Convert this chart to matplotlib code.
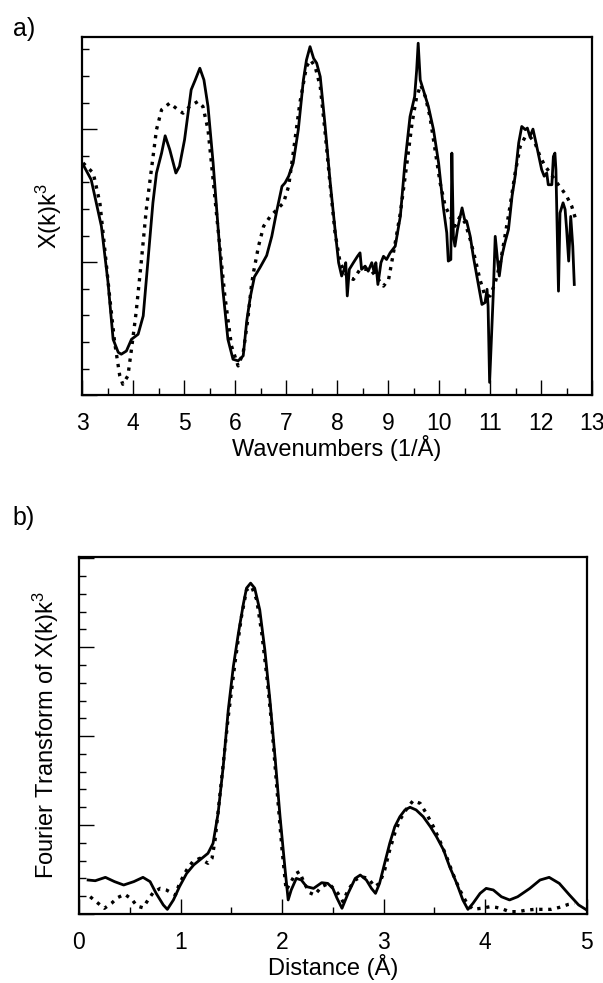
import matplotlib
matplotlib.use("Agg")
import matplotlib.pyplot as plt
from matplotlib.ticker import MultipleLocator, NullFormatter

plt.rcParams['font.family'] = ['Liberation Sans', 'DejaVu Sans']
plt.rcParams['mathtext.default'] = 'regular'

# a) EXAFS chi(k)*k^3, experiment (solid) and fit (dotted)
k_exp = [3.02, 3.04, 3.18, 3.38, 3.51, 3.61, 3.71, 3.77, 3.87, 3.97, 4.10, 4.20, 4.29, 4.39,
         4.46, 4.56, 4.63, 4.72, 4.84, 4.91, 5.01, 5.14, 5.22, 5.31, 5.39, 5.47, 5.57, 5.67,
         5.76, 5.86, 5.96, 6.06, 6.16, 6.23, 6.30, 6.38, 6.49, 6.62, 6.72, 6.82, 6.92, 6.98,
         7.05, 7.14, 7.24, 7.34, 7.40, 7.47, 7.54, 7.60, 7.67, 7.76, 7.86, 7.96, 8.03, 8.09,
         8.14, 8.17, 8.20, 8.24, 8.32, 8.40, 8.45, 8.48, 8.55, 8.61, 8.68, 8.73, 8.76, 8.80,
         8.86, 8.91, 8.97, 9.04, 9.14, 9.24, 9.33, 9.43, 9.52, 9.56, 9.59, 9.63, 9.69, 9.79,
         9.89, 9.99, 10.08, 10.15, 10.18, 10.23, 10.25, 10.28, 10.31, 10.36, 10.45, 10.50,
         10.54, 10.61, 10.67, 10.74, 10.80, 10.84, 10.90, 10.94, 10.96, 10.99, 11.02, 11.06,
         11.10, 11.15, 11.18, 11.23, 11.29, 11.36, 11.43, 11.49, 11.56, 11.62, 11.69, 11.73,
         11.78, 11.84, 11.90, 11.97, 12.01, 12.06, 12.11, 12.14, 12.21, 12.24, 12.27, 12.29,
         12.34, 12.37, 12.43, 12.47, 12.50, 12.54, 12.58, 12.62, 12.65]
chi_exp = [3.65, 3.60, 3.10, 1.35, -0.76, -2.90, -3.39, -3.46, -3.34, -2.90, -2.71, -2.02, 0.00,
           2.23, 3.35, 4.10, 4.75, 4.23, 3.35, 3.60, 4.60, 6.48, 6.85, 7.29, 6.85, 5.85, 3.73,
           1.23, -1.02, -2.90, -3.65, -3.71, -3.52, -2.20, -1.30, -0.55, -0.20, 0.25, 0.97,
           1.95, 2.85, 2.98, 3.23, 3.73, 4.98, 6.85, 7.60, 8.10, 7.66, 7.48, 6.97, 5.23, 3.10,
           1.23, -0.02, -0.52, -0.27, -0.02, -1.27, -0.27, -0.02, 0.22, 0.35, -0.27, -0.15,
           -0.34, -0.02, -0.40, -0.02, -0.84, -0.02, 0.22, 0.10, 0.35, 0.60, 1.72, 3.73, 5.47,
           6.22, 7.22, 8.23, 6.85, 6.48, 5.85, 4.98, 3.73, 2.10, 1.10, 0.04, 0.10, 4.10, 0.97,
           0.60, 1.23, 2.04, 1.60, 1.54, 0.97, 0.22, -0.52, -1.15, -1.59, -1.52, -1.02, -1.65,
           -4.52, -3.15, -1.27, 0.97, -0.02, -0.52, 0.22, 0.73, 1.23, 2.48, 3.23, 4.48, 5.10,
           4.98, 5.04, 4.72, 5.00, 4.48, 3.85, 3.48, 3.23, 3.35, 2.91, 2.91, 3.97, 4.10, 3.48,
           -1.09, 1.85, 2.23, 1.98, 1.23, 0.04, 1.72, 0.60, -0.84]

k_fit = [3.02, 3.22, 3.35, 3.44, 3.54, 3.64, 3.74, 3.80, 3.90, 3.97, 4.06, 4.16, 4.26, 4.36,
         4.46, 4.56, 4.72, 4.88, 4.98, 5.11, 5.27, 5.37, 5.47, 5.57, 5.70, 5.80, 5.93, 6.06,
         6.16, 6.25, 6.32, 6.36, 6.46, 6.56, 6.69, 6.95, 7.05, 7.14, 7.27, 7.40, 7.48, 7.57,
         7.67, 7.76, 7.86, 7.96, 8.06, 8.19, 8.32, 8.45, 8.65, 8.81, 8.91, 9.01, 9.07, 9.14,
         9.24, 9.37, 9.47, 9.56, 9.64, 9.73, 9.82, 9.92, 10.02, 10.12, 10.22, 10.31, 10.41,
         10.51, 10.61, 10.71, 10.80, 10.90, 11.00, 11.10, 11.20, 11.29, 11.39, 11.49, 11.59,
         11.69, 11.78, 11.88, 11.98, 12.08, 12.18, 12.31, 12.41, 12.50, 12.60, 12.67]
chi_fit = [3.73, 3.35, 2.23, 0.60, -1.27, -3.02, -4.27, -4.59, -4.27, -3.27, -1.90, -0.02, 1.98,
           3.48, 4.98, 5.73, 5.98, 5.73, 5.60, 5.85, 6.04, 5.85, 4.98, 3.10, 0.60, -1.27, -3.15,
           -3.90, -3.40, -2.15, -0.90, -0.40, 0.60, 1.35, 1.72, 2.23, 2.85, 4.10, 5.98, 7.35,
           7.60, 7.35, 6.60, 4.98, 2.98, 1.10, -0.02, -0.52, -0.65, -0.27, -0.27, -0.65, -0.90,
           -0.65, -0.02, 0.73, 1.85, 3.73, 5.23, 6.22, 6.66, 6.22, 5.47, 4.23, 2.98, 2.10, 1.72,
           1.35, 1.72, 1.48, 0.85, 0.10, -0.65, -1.27, -1.27, -0.77, -0.02, 0.97, 2.10, 3.35,
           4.35, 4.72, 4.72, 4.48, 3.97, 3.60, 3.35, 2.98, 2.73, 2.48, 2.10, 1.66]

# b) Fourier transform magnitude, experiment (solid) and fit (dotted)
r_exp = [0.09, 0.16, 0.26, 0.35, 0.44, 0.54, 0.63, 0.70, 0.76, 0.83, 0.87, 0.93, 0.99, 1.06,
         1.13, 1.21, 1.27, 1.32, 1.37, 1.42, 1.47, 1.52, 1.57, 1.62, 1.65, 1.69, 1.73, 1.78,
         1.83, 1.88, 1.93, 1.98, 2.03, 2.06, 2.09, 2.14, 2.19, 2.24, 2.31, 2.39, 2.45, 2.50,
         2.54, 2.59, 2.65, 2.72, 2.77, 2.83, 2.88, 2.92, 2.96, 3.01, 3.06, 3.11, 3.16, 3.21,
         3.26, 3.32, 3.39, 3.46, 3.52, 3.59, 3.65, 3.72, 3.78, 3.83, 3.88, 3.95, 4.01, 4.08,
         4.16, 4.24, 4.32, 4.44, 4.54, 4.63, 4.73, 4.83, 4.92, 4.99]
ft_exp = [1.91, 1.87, 2.06, 1.82, 1.63, 1.82, 2.06, 1.82, 1.16, 0.51, 0.26, 0.79, 1.54, 2.28,
          2.76, 3.13, 3.41, 3.97, 5.66, 8.28, 11.47, 13.91, 15.79, 17.47, 18.32, 18.60, 18.32,
          17.10, 14.85, 12.04, 8.85, 5.47, 2.47, 0.79, 1.35, 2.00, 1.91, 1.54, 1.44, 1.76, 1.72,
          1.44, 0.90, 0.32, 1.16, 2.00, 2.19, 1.91, 1.44, 1.16, 1.72, 2.85, 3.97, 4.91, 5.47,
          5.85, 6.00, 5.85, 5.47, 4.91, 4.35, 3.60, 2.66, 1.72, 0.79, 0.26, 0.60, 1.16, 1.44,
          1.35, 0.97, 0.79, 0.97, 1.44, 1.91, 2.06, 1.72, 1.07, 0.51, 0.26]

r_fit = [0.11, 0.18, 0.25, 0.32, 0.38, 0.45, 0.52, 0.57, 0.63, 0.68, 0.73, 0.80, 0.86, 0.95,
         0.99, 1.06, 1.12, 1.19, 1.27, 1.31, 1.34, 1.40, 1.47, 1.54, 1.60, 1.65, 1.70, 1.75,
         1.80, 1.85, 1.90, 1.95, 2.00, 2.04, 2.08, 2.13, 2.17, 2.22, 2.27, 2.32, 2.39, 2.46,
         2.55, 2.60, 2.65, 2.72, 2.78, 2.85, 2.91, 2.96, 3.01, 3.06, 3.11, 3.16, 3.23, 3.29,
         3.36, 3.42, 3.49, 3.55, 3.62, 3.68, 3.75, 3.82, 3.88, 3.96, 4.05, 4.11, 4.18, 4.24,
         4.32, 4.41, 4.49, 4.57, 4.65, 4.73, 4.82, 4.88]
ft_fit = [0.97, 0.64, 0.32, 0.60, 0.92, 1.11, 0.83, 0.45, 0.35, 0.79, 1.20, 1.44, 1.35, 1.07,
          1.72, 2.47, 2.94, 3.13, 2.85, 3.13, 4.16, 7.35, 11.10, 14.29, 16.72, 18.22, 18.41,
          17.66, 15.79, 13.35, 10.53, 6.97, 3.60, 1.35, 1.72, 2.25, 2.38, 1.72, 1.20, 1.07,
          1.54, 1.72, 1.16, 0.69, 1.35, 1.91, 2.10, 2.00, 1.54, 1.72, 2.47, 3.60, 4.54, 5.29,
          5.94, 6.37, 6.22, 5.66, 4.91, 4.16, 3.22, 2.29, 1.35, 0.60, 0.26, 0.32, 0.41, 0.37,
          0.26, 0.13, 0.13, 0.22, 0.26, 0.26, 0.26, 0.37, 0.54, 0.60]

fig = plt.figure(figsize=(6.03, 9.83), dpi=100)
ax1 = fig.add_axes([0.136, 0.598, 0.846, 0.364])
ax2 = fig.add_axes([0.131, 0.0702, 0.842, 0.363])

solid_kw = dict(color="black", lw=2.0, solid_joinstyle="round")
dot_kw = dict(color="black", lw=2.4, linestyle=(0, (1, 1.7)), dash_capstyle="butt")


def style_axes(ax):
    for s in ax.spines.values():
        s.set_linewidth(1.6)
    ax.tick_params(which="both", direction="in", top=False, right=False, width=1.0,
                   labelsize=16.5, pad=12)
    ax.tick_params(which="major", length=11)
    ax.tick_params(which="minor", length=5)
    ax.yaxis.set_major_formatter(NullFormatter())


ax1.plot(k_fit, chi_fit, **dot_kw)
ax1.plot(k_exp, chi_exp, **solid_kw)
ax1.set_xlim(3, 13)
ax1.set_ylim(-5, 8.45)
ax1.xaxis.set_major_locator(MultipleLocator(1))
ax1.xaxis.set_minor_locator(MultipleLocator(0.5))
ax1.yaxis.set_major_locator(MultipleLocator(5))
ax1.yaxis.set_minor_locator(MultipleLocator(1))
style_axes(ax1)
ax1.set_xlabel("Wavenumbers (1/Å)", fontsize=17, labelpad=0)
ax1.set_ylabel("X(k)k$^3$", fontsize=17, labelpad=1)

ax2.plot(r_fit, ft_fit, **dot_kw)
ax2.plot(r_exp, ft_exp, **solid_kw)
ax2.set_xlim(0, 5)
ax2.set_ylim(0, 20.06)
ax2.xaxis.set_major_locator(MultipleLocator(1))
ax2.xaxis.set_minor_locator(MultipleLocator(0.5))
ax2.yaxis.set_major_locator(MultipleLocator(5))
ax2.yaxis.set_minor_locator(MultipleLocator(1))
style_axes(ax2)
ax2.set_xlabel("Distance (Å)", fontsize=17, labelpad=0)
ax2.set_ylabel("Fourier Transform of X(k)k$^3$", fontsize=17, labelpad=1)

fig.text(0.021, 0.970, "a)", fontsize=18, va="center", ha="left")
fig.text(0.021, 0.473, "b)", fontsize=18, va="center", ha="left")

fig.savefig("out.png", dpi=100)
